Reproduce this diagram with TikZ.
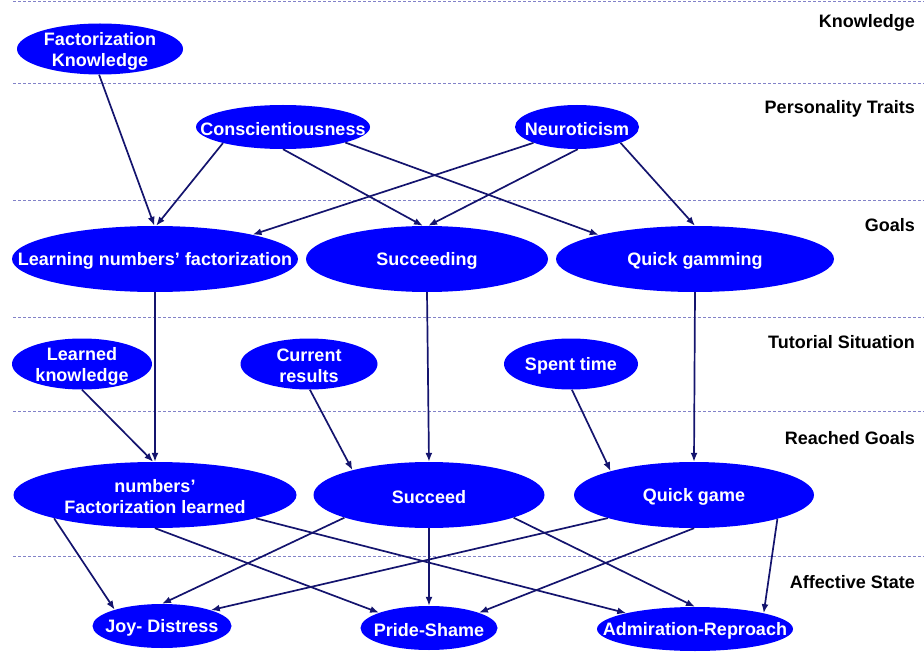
\documentclass[tikz,border=0pt]{standalone}
\usepackage{fontspec}
\setmainfont{Liberation Sans}
\usetikzlibrary{shapes.geometric,arrows.meta}
\definecolor{nodeblue}{RGB}{0,0,255}
\definecolor{arrowblue}{RGB}{20,20,110}
\definecolor{layergray}{RGB}{130,130,200}

\begin{document}
\begin{tikzpicture}[x=1pt,y=-1pt,
  state/.style={ellipse,fill=nodeblue,inner sep=0pt},
  every label/.style={text=white,align=center,inner sep=0pt,yshift=-2pt,
    font=\fontsize{18}{21}\selectfont\bfseries},
  layer/.style={anchor=east,inner sep=0pt,font=\fontsize{18}{21}\selectfont\bfseries},
  link/.style={draw=arrowblue,line width=1.7pt,-{Latex[length=9pt,width=7pt]}},
  layerline/.style={draw=layergray,line width=0.8pt,dash pattern=on 3pt off 2pt}]
\useasboundingbox (0,0) rectangle (924,663);
% layer separators
\foreach \y in {1,83,200,317,411,556}
  \draw[layerline] (13,\y) -- (924,\y);
% layer names
\node[layer] (lknow) at (915,23) {Knowledge};
\node[layer] (lpers) at (915,109) {Personality Traits};
\node[layer] (lgoal) at (915,225) {Goals};
\node[layer] (ltut) at (915,342) {Tutorial Situation};
\node[layer] (lreach) at (915,438) {Reached Goals};
\node[layer] (laff) at (915,582) {Affective State};
% nodes
\node[state,minimum width=166pt,minimum height=51pt,label={center:Factorization\\Knowledge}] (fk) at (100,49) {};
\node[state,minimum width=174pt,minimum height=44pt,label={center:Conscientiousness}] (consc) at (283,127) {};
\node[state,minimum width=124pt,minimum height=44pt,label={center:Neuroticism}] (neuro) at (577,127) {};
\node[state,minimum width=286pt,minimum height=66pt,label={center:Learning numbers’ factorization}] (learning) at (155,259) {};
\node[state,minimum width=242pt,minimum height=66pt,label={center:Succeeding}] (succeeding) at (427,259) {};
\node[state,minimum width=278pt,minimum height=66pt,label={center:Quick gamming}] (gamming) at (695,259) {};
\node[state,minimum width=140pt,minimum height=51pt,label={center:Learned\\knowledge}] (learned) at (82,364) {};
\node[state,minimum width=137pt,minimum height=51pt,label={center:Current\\results}] (results) at (309,364) {};
\node[state,minimum width=134pt,minimum height=51pt,label={center:Spent time}] (spent) at (571,364) {};
\node[state,minimum width=283pt,minimum height=66pt,label={center:numbers’\\Factorization learned}] (factlearned) at (155,495) {};
\node[state,minimum width=231pt,minimum height=66pt,label={center:Succeed}] (succeed) at (429,495) {};
\node[state,minimum width=240pt,minimum height=66pt,label={center:Quick game}] (game) at (694,495) {};
\node[state,minimum width=139pt,minimum height=44pt,label={center:Joy- Distress}] (joy) at (162,626) {};
\node[state,minimum width=137pt,minimum height=44pt,label={center:Pride-Shame}] (pride) at (429,628) {};
\node[state,minimum width=196pt,minimum height=44pt,label={center:Admiration-Reproach}] (admir) at (695,629) {};
% knowledge and traits to goals
\draw[link] (fk.268) -- (learning.91);
\draw[link] (consc.195) -- (learning.88);
\draw[link] (consc.270) -- (succeeding.97);
\draw[link] (consc.-14) -- (gamming.166);
\draw[link] (neuro.200) -- (learning.14);
\draw[link] (neuro.272) -- (succeeding.88);
\draw[link] (neuro.-20) -- (gamming.90);
% goals and situation to reached goals
\draw[link] (learning.270) -- (factlearned.90);
\draw[link] (succeeding.270) -- (succeed.90);
\draw[link] (gamming.270) -- (game.90);
\draw[link] (learned.270) -- (factlearned.93);
\draw[link] (results.272) -- (succeed.162);
\draw[link] (spent.272) -- (game.164);
% reached goals to affective state
\draw[link] (factlearned.193) -- (joy.161);
\draw[link] (factlearned.270) -- (pride.163);
\draw[link] (factlearned.-13) -- (admir.167);
\draw[link] (succeed.195) -- (joy.90);
\draw[link] (succeed.270) -- (pride.90);
\draw[link] (succeed.-15) -- (admir.90);
\draw[link] (game.195) -- (joy.18);
\draw[link] (game.270) -- (pride.17);
\draw[link] (game.-16) -- (admir.13);
\end{tikzpicture}
\end{document}
